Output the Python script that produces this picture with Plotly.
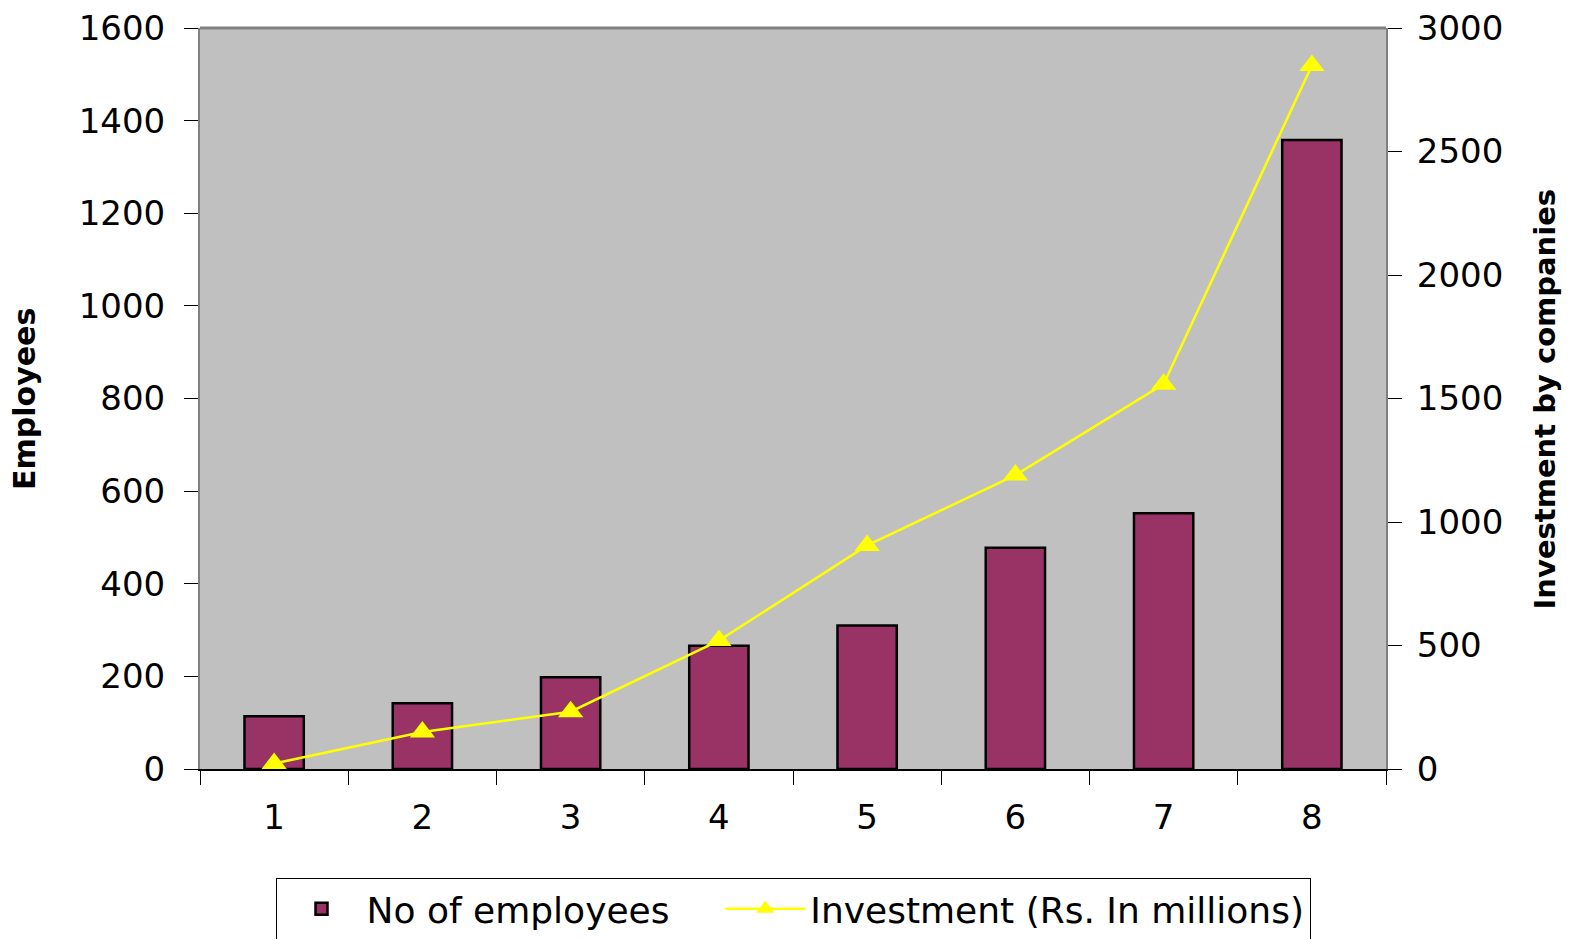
import plotly.graph_objects as go

companies = ["1", "2", "3", "4", "5", "6", "7", "8"]
employees = [114, 142, 198, 266, 310, 478, 552, 1358]
investment = [22, 150, 232, 520, 905, 1190, 1558, 2848]

FONT = "DejaVu Sans, Liberation Sans, Arial, sans-serif"

fig = go.Figure()

fig.add_trace(go.Bar(
    x=companies, y=employees, name="No of employees    ",
    marker=dict(color="#993366", line=dict(color="black", width=2.5)),
))

fig.add_trace(go.Scatter(
    x=companies, y=investment, name="Investment (Rs. In millions)",
    yaxis="y2", mode="lines+markers",
    line=dict(color="#FFFF00", width=2.5),
    marker=dict(symbol="triangle-up", size=22, color="#FFFF00"),
))

# the page body adds an 8px offset, margins compensate for it
fig.update_layout(
    width=1572, height=939,
    margin=dict(l=192, r=194, t=20, b=178, autoexpand=False),
    paper_bgcolor="white", plot_bgcolor="#C0C0C0",
    font=dict(family=FONT, size=34, color="black"),
    bargap=0.6,
    showlegend=True,
    legend=dict(
        orientation="h", x=0.5, xanchor="center", y=-0.147, yanchor="top",
        bordercolor="black", borderwidth=1, bgcolor="white",
        font=dict(size=36), itemwidth=80,
    ),
    xaxis=dict(
        type="category", tickson="boundaries", ticks="outside", ticklen=14,
        tickcolor="black", showline=True, linecolor="black", linewidth=1.5,
        showgrid=False, mirror=False, ticklabelstandoff=17, automargin=False,
    ),
    yaxis=dict(
        range=[0, 1600], dtick=200, ticks="outside", ticklen=14,
        tickcolor="black", showline=True, linecolor="#808080", linewidth=2,
        showgrid=False, zeroline=False, ticklabelstandoff=12, automargin=False,
        ticklabeloverflow="allow",
    ),
    yaxis2=dict(
        range=[0, 3000], dtick=500, overlaying="y", side="right",
        ticks="outside", ticklen=14, tickcolor="black",
        showline=True, linecolor="#808080", linewidth=2,
        showgrid=False, zeroline=False, ticklabelstandoff=8, automargin=False,
        ticklabeloverflow="allow",
    ),
    annotations=[
        dict(text="<b>Employees</b>", xref="paper", yref="paper",
             x=-0.148, y=0.5, xanchor="center", yanchor="middle",
             textangle=-90, showarrow=False, font=dict(size=30)),
        dict(text="<b>Investment by companies</b>", xref="paper", yref="paper",
             x=1.134, y=0.5, xanchor="center", yanchor="middle",
             textangle=-90, showarrow=False, font=dict(size=29)),
    ],
    shapes=[
        dict(type="line", xref="paper", yref="paper", x0=0, x1=1, y0=1, y1=1,
             line=dict(color="#808080", width=3)),
    ],
)

fig.write_html("out.html")
